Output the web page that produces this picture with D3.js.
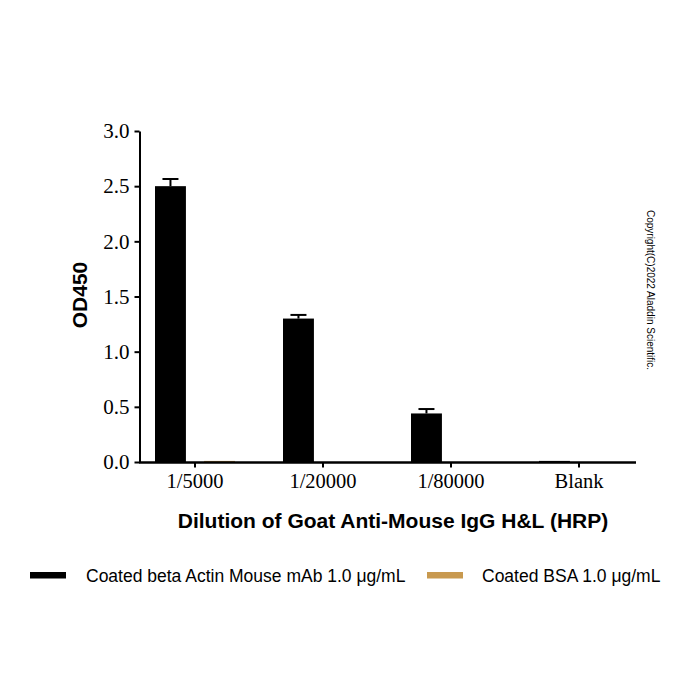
<!DOCTYPE html>
<html><head><meta charset="utf-8">
<script src="https://cdn.jsdelivr.net/npm/d3@7"></script>
<style>body{margin:0;background:#fff}</style>
</head><body>
<svg id="c" width="700" height="700"></svg>
<script>
const categories = ["1/5000", "1/20000", "1/80000", "Blank"];
const seriesNames = ["Coated beta Actin Mouse mAb 1.0 μg/mL", "Coated BSA 1.0 μg/mL"];
const actinValues = [2.50, 1.30, 0.44, 0.01];
const actinErrors = [0.065, 0.033, 0.04, 0];
const bsaValues = [0.01, 0.0, 0.0, 0.0];
const bsaErrors = [0, 0, 0, 0];
const yTicks = [0, 0.5, 1.0, 1.5, 2.0, 2.5, 3.0];
const colors = ["#000000", "#c8994f"];

const svg = d3.select("#c");
const x = d3.scaleBand().domain(categories).range([131, 643]).paddingInner(0).paddingOuter(0);
const y = d3.scaleLinear().domain([0, 3]).range([462, 131]);
const sub = d3.scaleBand().domain([0, 1]).range([-40, 40]).paddingInner(0.37).paddingOuter(0);

const series = [
  {vals: actinValues, errs: actinErrors, color: colors[0]},
  {vals: bsaValues, errs: bsaErrors, color: colors[1]}
];

series.forEach((s, si) => {
  const g = svg.append("g");
  categories.forEach((c, i) => {
    const cx = x(c) + x.bandwidth() / 2;
    const bx = cx + sub(si);
    const w = sub.bandwidth();
    const v = s.vals[i];
    if (v > 0) {
      g.append("rect").attr("x", bx).attr("width", w)
        .attr("y", y(v)).attr("height", Math.max(y(0) - y(v), 1.5))
        .attr("fill", s.color);
    }
    if (s.errs[i] > 0) {
      const ex = bx + w / 2;
      g.append("line").attr("x1", ex).attr("x2", ex).attr("y1", y(v)).attr("y2", y(v + s.errs[i]))
        .attr("stroke", "#000").attr("stroke-width", 2);
      g.append("line").attr("x1", ex - 8).attr("x2", ex + 8).attr("y1", y(v + s.errs[i])).attr("y2", y(v + s.errs[i]))
        .attr("stroke", "#000").attr("stroke-width", 2);
    }
  });
});

// Y axis
const yAxis = d3.axisLeft(y).tickValues(yTicks).tickFormat(d3.format(".1f")).tickSize(5).tickSizeOuter(0);
const gy = svg.append("g").attr("transform", "translate(139.5,0)").call(yAxis);
gy.select(".domain").attr("stroke", "#000").attr("stroke-width", 2);
gy.selectAll(".tick line").attr("stroke", "#000").attr("stroke-width", 2);
gy.selectAll(".tick text").attr("font-family", "Liberation Serif, Times New Roman, serif")
  .attr("font-size", 21).attr("fill", "#000").attr("x", -10);

// X axis
const xAxis = d3.axisBottom(x).tickSize(5).tickSizeOuter(0);
const gx = svg.append("g").attr("transform", "translate(0,462.5)").call(xAxis);
gx.select(".domain").attr("d", "M139,0H636").attr("stroke", "#000").attr("stroke-width", 2.5);
gx.selectAll(".tick line").attr("stroke", "#000").attr("stroke-width", 2);
gx.selectAll(".tick text").attr("font-family", "Liberation Serif, Times New Roman, serif")
  .attr("font-size", 20.5).attr("fill", "#000").attr("y", 11);

// Axis titles
svg.append("text").attr("transform", "translate(87,295) rotate(-90)").attr("text-anchor", "middle")
  .attr("font-family", "Liberation Sans, Arial, sans-serif").attr("font-weight", "bold").attr("font-size", 21)
  .text("OD450");
svg.append("text").attr("x", 393).attr("y", 528).attr("text-anchor", "middle")
  .attr("font-family", "Liberation Sans, Arial, sans-serif").attr("font-weight", "bold").attr("font-size", 21)
  .text("Dilution of Goat Anti-Mouse IgG H&L (HRP)");

// Legend
const legendPos = [{rx: 30, tx: 86}, {rx: 427, tx: 482}];
seriesNames.forEach((n, i) => {
  svg.append("rect").attr("x", legendPos[i].rx).attr("y", 572).attr("width", 36).attr("height", 6.5).attr("fill", colors[i]);
  svg.append("text").attr("x", legendPos[i].tx).attr("y", 582)
    .attr("font-family", "Liberation Sans, Arial, sans-serif").attr("font-size", 17.5).text(n);
});

// Copyright
svg.append("text").attr("transform", "translate(647,290) rotate(90)").attr("text-anchor", "middle")
  .attr("font-family", "Liberation Sans, Arial, sans-serif").attr("font-size", 10).attr("fill", "#000")
  .text("Copyright(C)2022 Aladdin Scientific.");
</script>
</body></html>
